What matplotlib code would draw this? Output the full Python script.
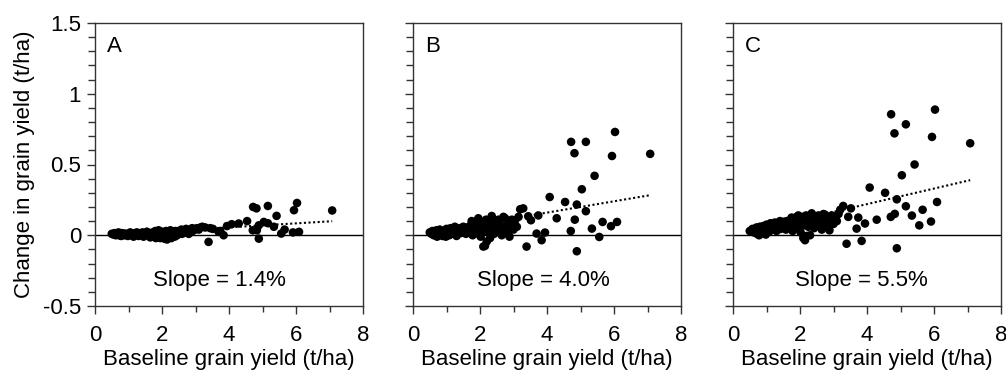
import numpy as np
import matplotlib
matplotlib.use('Agg')
import matplotlib.pyplot as plt
from matplotlib.ticker import MultipleLocator

plt.rcParams['font.family'] = ['Liberation Sans', 'DejaVu Sans']

# baseline grain yield (t/ha) - same sites in every panel
baseline = [0.50, 0.55, 0.58, 0.62, 0.65, 0.68, 0.70, 0.72, 0.75, 0.78, 0.80, 0.83, 0.85, 0.88, 0.90, 0.95,
            0.98, 1.00, 1.05, 1.08, 1.12, 1.15, 1.20, 1.22, 1.25, 1.30, 1.32, 1.35, 1.40, 1.42, 1.45, 1.50,
            1.55, 1.58, 1.60, 1.65, 1.68, 1.72, 1.75, 1.78, 1.80, 1.82, 1.85, 1.88, 1.90, 1.92, 1.95, 1.98,
            2.00, 2.02, 2.05, 2.08, 2.10, 2.12, 2.15, 2.18, 2.20, 2.22, 2.25, 2.28, 2.30, 2.32, 2.35, 2.38,
            2.40, 2.42, 2.45, 2.50, 2.55, 2.58, 2.60, 2.65, 2.70, 2.72, 2.75, 2.80, 2.85, 2.88, 2.90, 2.95,
            3.00, 3.05, 3.10, 3.15, 3.20,
            6.03, 4.72, 5.16, 4.82, 5.94, 7.08, 5.42, 5.04, 4.08, 4.54, 4.89, 5.16, 4.29, 4.83, 5.66, 5.91,
            6.09, 5.34, 4.71, 5.56, 4.89, 3.74, 3.52, 3.94, 3.69, 3.84, 3.29, 3.39, 3.44]

# change in grain yield (t/ha), panels A, B, C
change_a = [0.010, 0.005, 0.015, 0.000, 0.010, 0.005, 0.020, 0.000, 0.010, -0.005, 0.015, 0.005, 0.010, 0.000,
            0.012, 0.005, -0.005, 0.010, 0.020, 0.000, 0.010, -0.010, 0.015, 0.005, 0.020, -0.005, 0.010, 0.015,
            0.000, 0.020, -0.010, 0.010, 0.025, 0.000, 0.015, -0.015, 0.010, 0.020, -0.010, 0.005, 0.030, -0.020,
            0.010, -0.005, 0.035, 0.000, -0.020, 0.015, 0.025, -0.010, 0.010, -0.025, 0.000, 0.030, -0.030, 0.020,
            -0.015, 0.010, 0.035, -0.020, 0.000, 0.025, 0.010, -0.010, 0.030, 0.015, 0.000, 0.030, 0.020, 0.040,
            0.010, 0.035, 0.020, 0.045, 0.030, 0.010, 0.040, 0.025, 0.050, 0.035, 0.045, 0.050, 0.040, 0.055,
            0.060,
            0.228, 0.200, 0.207, 0.190, 0.177, 0.175, 0.137, 0.094, 0.078, 0.100, 0.070, 0.085, 0.083, 0.035,
            0.040, 0.020, 0.024, 0.060, 0.035, 0.012, -0.024, 0.030, 0.045, 0.065, 0.024, 0.000, 0.055, -0.047,
            0.050]
change_b = [0.020, 0.010, 0.030, 0.000, 0.025, 0.015, 0.035, -0.010, 0.020, 0.005, 0.040, 0.010, 0.025, -0.005,
            0.030, 0.015, -0.010, 0.045, 0.030, 0.000, 0.050, 0.010, 0.035, 0.020, 0.060, -0.005, 0.040, 0.025,
            0.050, 0.015, 0.030, 0.060, 0.040, 0.010, 0.055, 0.020, 0.045, 0.070, 0.100, 0.000, 0.060, 0.030,
            0.080, 0.015, 0.100, 0.045, 0.120, 0.020, 0.070, -0.010, 0.050, 0.090, -0.080, 0.030, -0.075, 0.110,
            -0.045, 0.060, 0.020, 0.080, -0.020, 0.100, 0.136, 0.040, 0.070, 0.010, 0.090, 0.050, 0.110, 0.030,
            0.075, 0.000, 0.130, 0.060, 0.120, 0.020, 0.090, -0.010, 0.070, 0.110, 0.040, 0.106, 0.060, 0.130,
            0.184,
            0.730, 0.660, 0.660, 0.580, 0.560, 0.575, 0.420, 0.325, 0.270, 0.235, 0.217, 0.170, 0.120, 0.110,
            0.094, 0.064, 0.094, 0.047, 0.030, -0.012, -0.113, 0.140, 0.106, 0.019, 0.012, -0.035, 0.190, -0.080,
            0.134]
change_c = [0.030, 0.025, 0.045, 0.020, 0.040, 0.035, 0.055, 0.010, 0.040, 0.000, 0.060, 0.030, 0.050, 0.015,
            0.065, 0.045, 0.005, 0.075, 0.060, 0.025, 0.085, 0.040, 0.070, 0.050, 0.090, 0.030, 0.080, 0.060,
            0.100, 0.045, 0.070, 0.095, 0.075, 0.040, 0.100, 0.055, 0.085, 0.110, 0.125, 0.030, 0.100, 0.065,
            0.115, 0.050, 0.130, 0.085, 0.140, 0.060, 0.110, 0.020, 0.090, 0.130, -0.020, 0.070, -0.035, 0.140,
            -0.005, 0.100, 0.060, 0.120, 0.000, 0.135, 0.155, 0.080, 0.110, 0.050, 0.125, 0.090, 0.140, 0.070,
            0.115, 0.040, 0.150, 0.100, 0.145, 0.060, 0.130, 0.035, 0.110, 0.140, 0.080, 0.120, 0.100, 0.150,
            0.180,
            0.888, 0.855, 0.784, 0.720, 0.695, 0.650, 0.500, 0.424, 0.337, 0.300, 0.254, 0.205, 0.110, 0.151,
            0.180, 0.097, 0.235, 0.139, 0.130, 0.070, -0.092, 0.125, 0.190, 0.083, 0.047, -0.040, 0.207, -0.060,
            0.130]

panels = ['A', 'B', 'C']
slopes = [0.014, 0.040, 0.055]
changes = [change_a, change_b, change_c]

x = np.array(baseline)
fig = plt.figure(figsize=(10.06, 3.74), dpi=100)
lefts = [95, 413, 733]
slope_x = [0.465, 0.485, 0.48]

for i in range(3):
    ax = fig.add_axes([lefts[i] / 1006, 68 / 374, 268 / 1006, 283 / 374])
    xl = np.array([x.min(), x.max()])
    ax.plot(xl, slopes[i] * xl, ls=(0, (1, 1.2)), color='k', lw=1.5, zorder=2)
    ax.axhline(0, color='k', lw=1.0, zorder=1)
    ax.scatter(x, changes[i], s=38, color='k', edgecolors='none', zorder=3)

    ax.set_xlim(0, 8)
    ax.set_ylim(-0.5, 1.5)
    ax.xaxis.set_major_locator(MultipleLocator(2))
    ax.xaxis.set_minor_locator(MultipleLocator(1))
    ax.yaxis.set_major_locator(MultipleLocator(0.5))
    ax.yaxis.set_minor_locator(MultipleLocator(0.1))
    ax.tick_params(which='both', direction='out', top=False, right=False, colors='#333333',
                   labelcolor='k', labelsize=16, width=1)
    ax.tick_params(axis='x', which='major', length=6, pad=8)
    ax.tick_params(axis='x', which='minor', length=4)
    ax.tick_params(axis='y', which='major', length=6, pad=4)
    ax.tick_params(axis='y', which='minor', length=5)
    ax.set_yticks([-0.5, 0, 0.5, 1, 1.5])
    ax.set_yticklabels(['-0.5', '0', '0.5', '1', '1.5'])
    for sp in ax.spines.values():
        sp.set_color('#333333')
        sp.set_linewidth(1.0)
    if i > 0:
        ax.tick_params(axis='y', labelleft=False)
    else:
        ax.set_ylabel('Change in grain yield (t/ha)', fontsize=16, labelpad=6)
    ax.set_xlabel('Baseline grain yield (t/ha)', fontsize=16, labelpad=2)
    ax.text(0.045, 0.955, panels[i], transform=ax.transAxes, fontsize=16, va='top', ha='left')
    ax.text(slope_x[i], 0.09, f'Slope = {slopes[i] * 100:.1f}%', transform=ax.transAxes,
            fontsize=16, va='center', ha='center')

fig.savefig('out.png', dpi=100)
